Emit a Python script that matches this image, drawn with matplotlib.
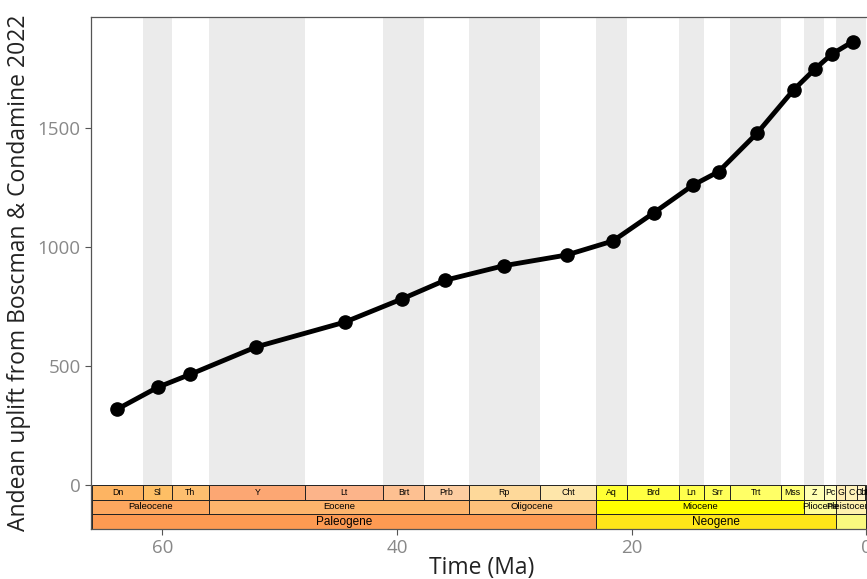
import matplotlib.pyplot as plt
from matplotlib.patches import Rectangle

plt.rcParams['font.family'] = ['Open Sans', 'DejaVu Sans']

# Andean uplift series (time in Ma, uplift)
time_ma = [63.85, 60.4, 57.6, 52.0, 44.45, 39.55, 35.9, 30.9, 25.55, 21.6,
           18.1, 14.8, 12.6, 9.3, 6.2, 4.4, 2.95, 1.15]
uplift = [318, 410, 465, 580, 684, 782, 860, 921, 966, 1025,
          1144, 1259, 1316, 1479, 1660, 1747, 1810, 1863]

# geological time scale (name, start, end, colour)
stages = [
    ("Dn", 66.0, 61.6, "#FDB462"), ("Sl", 61.6, 59.2, "#FEBF65"),
    ("Th", 59.2, 56.0, "#FDBF6F"), ("Y", 56.0, 47.8, "#FCA773"),
    ("Lt", 47.8, 41.2, "#FCB48A"), ("Brt", 41.2, 37.71, "#FDC091"),
    ("Prb", 37.71, 33.9, "#FDCDA1"), ("Rp", 33.9, 27.82, "#FED99A"),
    ("Cht", 27.82, 23.03, "#FEE6AA"), ("Aq", 23.03, 20.44, "#FFFF33"),
    ("Brd", 20.44, 15.97, "#FFFF41"), ("Ln", 15.97, 13.82, "#FFFF4D"),
    ("Srr", 13.82, 11.63, "#FFFF59"), ("Trt", 11.63, 7.246, "#FFFF66"),
    ("Mss", 7.246, 5.333, "#FFFF73"), ("Z", 5.333, 3.6, "#FFFFB3"),
    ("Pc", 3.6, 2.58, "#FFFFBF"), ("G", 2.58, 1.8, "#FFEDB3"),
    ("C", 1.8, 0.774, "#FFF2BA"), ("Ch", 0.774, 0.129, "#FFF2C7"),
    ("UP", 0.129, 0.0117, "#FFF2D3"),
]
epochs = [
    ("Paleocene", 66.0, 56.0, "#FDA75F"), ("Eocene", 56.0, 33.9, "#FDB46C"),
    ("Oligocene", 33.9, 23.03, "#FEC07A"), ("Miocene", 23.03, 5.333, "#FFFF00"),
    ("Pliocene", 5.333, 2.58, "#FFFF99"), ("Pleistocene", 2.58, 0.0117, "#FFF2AE"),
    ("", 0.0117, 0.0, "#FEF2E0"),
]
periods = [
    ("Paleogene", 66.0, 23.03, "#FD9A52"), ("Neogene", 23.03, 2.58, "#FFE619"),
    ("", 2.58, 0.0, "#F9F97F"),
]
# alternating shaded stage intervals
bands = [(61.6, 59.2), (56.0, 47.8), (41.2, 37.71), (33.9, 27.82), (23.03, 20.44),
         (15.97, 13.82), (11.63, 7.246), (5.333, 3.6), (2.58, 0.0)]

x_lo, x_hi = 66.07, -0.05
y_lo, y_hi = -185, 1966
row_h = 61.6

fig = plt.figure(figsize=(8.67, 5.79), dpi=100)
ax = fig.add_axes([0.105, 0.0864, 0.895, 0.8842])
ax.set_xlim(x_lo, x_hi)
ax.set_ylim(y_lo, y_hi)

for a, b in bands:
    ax.add_patch(Rectangle((b, 0), a - b, y_hi, facecolor="#EBEBEB",
                           edgecolor="none", zorder=0))


def draw_row(items, top, size):
    for name, a, b, col in items:
        ax.add_patch(Rectangle((b, top - row_h), a - b, row_h, facecolor=col,
                               edgecolor="#222222", linewidth=0.7, zorder=2))
        if name:
            mid = (max(min(a, x_lo), x_hi) + b) / 2
            ax.text(mid, top - row_h / 2, name, ha="center", va="center",
                    fontsize=size, family="Liberation Sans", color="black",
                    zorder=3, clip_on=True)


draw_row(stages, 0, 6.3)
draw_row(epochs, -row_h, 6.8)
draw_row(periods, -2 * row_h, 8.5)

ax.plot(time_ma, uplift, color="black", linewidth=3.5, marker="o",
        markersize=9.5, zorder=5)

ax.set_yticks([0, 500, 1000, 1500])
ax.set_xticks([60, 40, 20, 0])
ax.tick_params(colors="#555555", labelcolor="#888888", labelsize=13.5,
               length=4, width=0.8)
for side in ("top", "left", "bottom"):
    ax.spines[side].set_color("#555555")
    ax.spines[side].set_linewidth(0.9)
ax.spines["right"].set_visible(False)

fig.text(0.556, 0.019, "Time (Ma)", fontsize=16.5, color="#222222",
         ha="center", va="center")
ax.set_ylabel("Andean uplift from Boscman & Condamine 2022", fontsize=16.5,
              color="#222222", labelpad=5)

fig.savefig("out.png", dpi=100)
